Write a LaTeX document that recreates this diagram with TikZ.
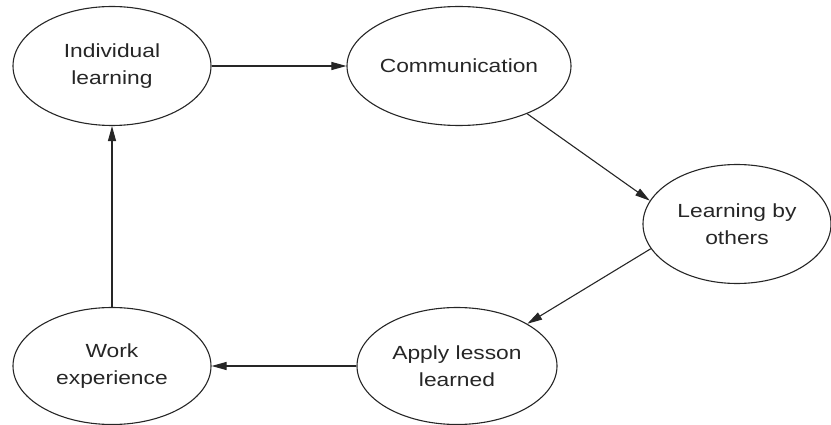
\documentclass[tikz,border=0pt]{standalone}
\usepackage{fontspec}
\setmainfont{Liberation Sans}[FakeStretch=1.2]
\usetikzlibrary{shapes.geometric,arrows.meta}
\definecolor{ink}{HTML}{262626}
\begin{document}
\begin{tikzpicture}[x=1pt,y=-1pt,
  stage/.style={ellipse,draw=ink,line width=1.1pt,inner sep=0pt,
    minimum width=198pt,minimum height=119pt,align=center,text=ink,
    font=\fontsize{19pt}{27pt}\selectfont},
  flow/.style={draw=ink,line width=1.1pt,-{Triangle[length=15pt,width=8pt]}}]
  \useasboundingbox (0,0) rectangle (831,425);
  \node[stage] (ind)   at (112,66)  {Individual\\learning};
  \node[stage] (comm)  at (459,66)  {Communication};
  \node[stage,minimum width=188pt] (learn) at (737,224) {Learning by\\others};
  \node[stage,minimum width=200pt,minimum height=117pt] (apply) at (457,366) {Apply lesson\\learned};
  \node[stage,minimum height=117pt] (work)  at (112,366) {Work\\experience};
  \draw[flow] (ind.east) -- (comm.west);
  \draw[flow] (comm.-35) -- (learn.165);
  \draw[flow] (learn.196) -- (apply.31);
  \draw[flow] (apply.west) -- (work.east);
  \draw[flow] (work.north) -- (ind.south);
\end{tikzpicture}
\end{document}
